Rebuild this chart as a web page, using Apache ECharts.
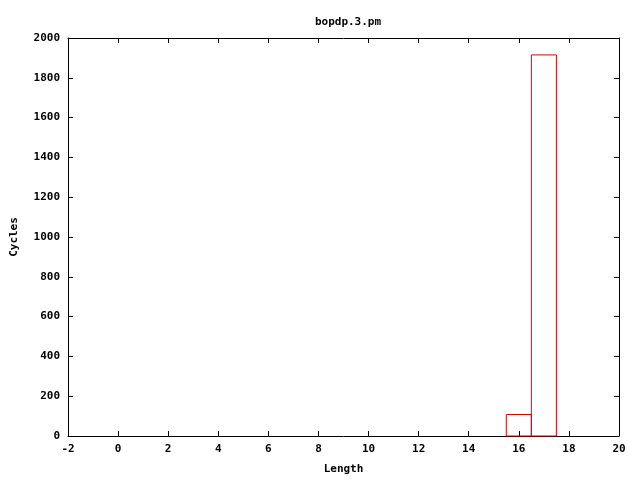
<!DOCTYPE html>
<html><head><meta charset="utf-8">
<script src="https://cdn.jsdelivr.net/npm/echarts@6/dist/echarts.min.js"></script>
<style>html,body{margin:0;padding:0;background:#fff}#c{width:640px;height:480px}</style>
</head><body><div id="c"></div>
<script>
const lengths = [16, 17];
const cycles = [108, 1915];
const xTicks = [-2, 20, 2];
const yTicks = [0, 2000, 200];
const titleText = 'bopdp.3.pm';
const xName = 'Length';
const yName = 'Cycles';

const font = 'DejaVu Sans Mono';
const chart = echarts.init(document.getElementById('c'));
function axisBase() {
  return {
    axisLine: {show: true, onZero: false, lineStyle: {color: '#000', width: 1}},
    axisTick: {show: true, inside: true, length: 5, lineStyle: {color: '#000'}},
    splitLine: {show: false}
  };
}
const labelStyle = {fontFamily: font, fontSize: 11, fontWeight: 'bold', color: '#000'};
const fmt = v => String(v);
chart.setOption({
  animation: false,
  backgroundColor: '#fff',
  title: {text: titleText, left: 343, top: 12, textAlign: 'center',
    textStyle: labelStyle},
  grid: {left: 68, right: 21, top: 38, bottom: 40, containLabel: false},
  xAxis: [
    Object.assign({type: 'value', min: xTicks[0], max: xTicks[1], interval: xTicks[2], position: 'bottom',
      name: xName, nameLocation: 'middle', nameGap: 28, nameTextStyle: labelStyle,
      axisLabel: Object.assign({margin: 8, formatter: fmt}, labelStyle)}, axisBase()),
    Object.assign({type: 'value', min: xTicks[0], max: xTicks[1], interval: xTicks[2], position: 'top',
      axisLabel: {show: false}}, axisBase())
  ],
  yAxis: [
    Object.assign({type: 'value', min: yTicks[0], max: yTicks[1], interval: yTicks[2], position: 'left',
      name: yName, nameLocation: 'middle', nameGap: 48, nameRotate: 90, nameTextStyle: labelStyle,
      axisLabel: Object.assign({margin: 8, formatter: fmt}, labelStyle)}, axisBase()),
    Object.assign({type: 'value', min: yTicks[0], max: yTicks[1], interval: yTicks[2], position: 'right',
      axisLabel: {show: false}}, axisBase())
  ],
  series: [{
    type: 'custom',
    data: lengths.map((x, i) => [x, cycles[i]]),
    renderItem: function (params, api) {
      const x = api.value(0), y = api.value(1);
      const p0 = api.coord([x - 0.5, 0]);
      const p1 = api.coord([x + 0.5, y]);
      return {
        type: 'rect',
        shape: {x: p0[0], y: p1[1], width: p1[0] - p0[0], height: p0[1] - p1[1]},
        style: {fill: null, stroke: '#dd0000', lineWidth: 1}
      };
    }
  }]
});
</script></body></html>
